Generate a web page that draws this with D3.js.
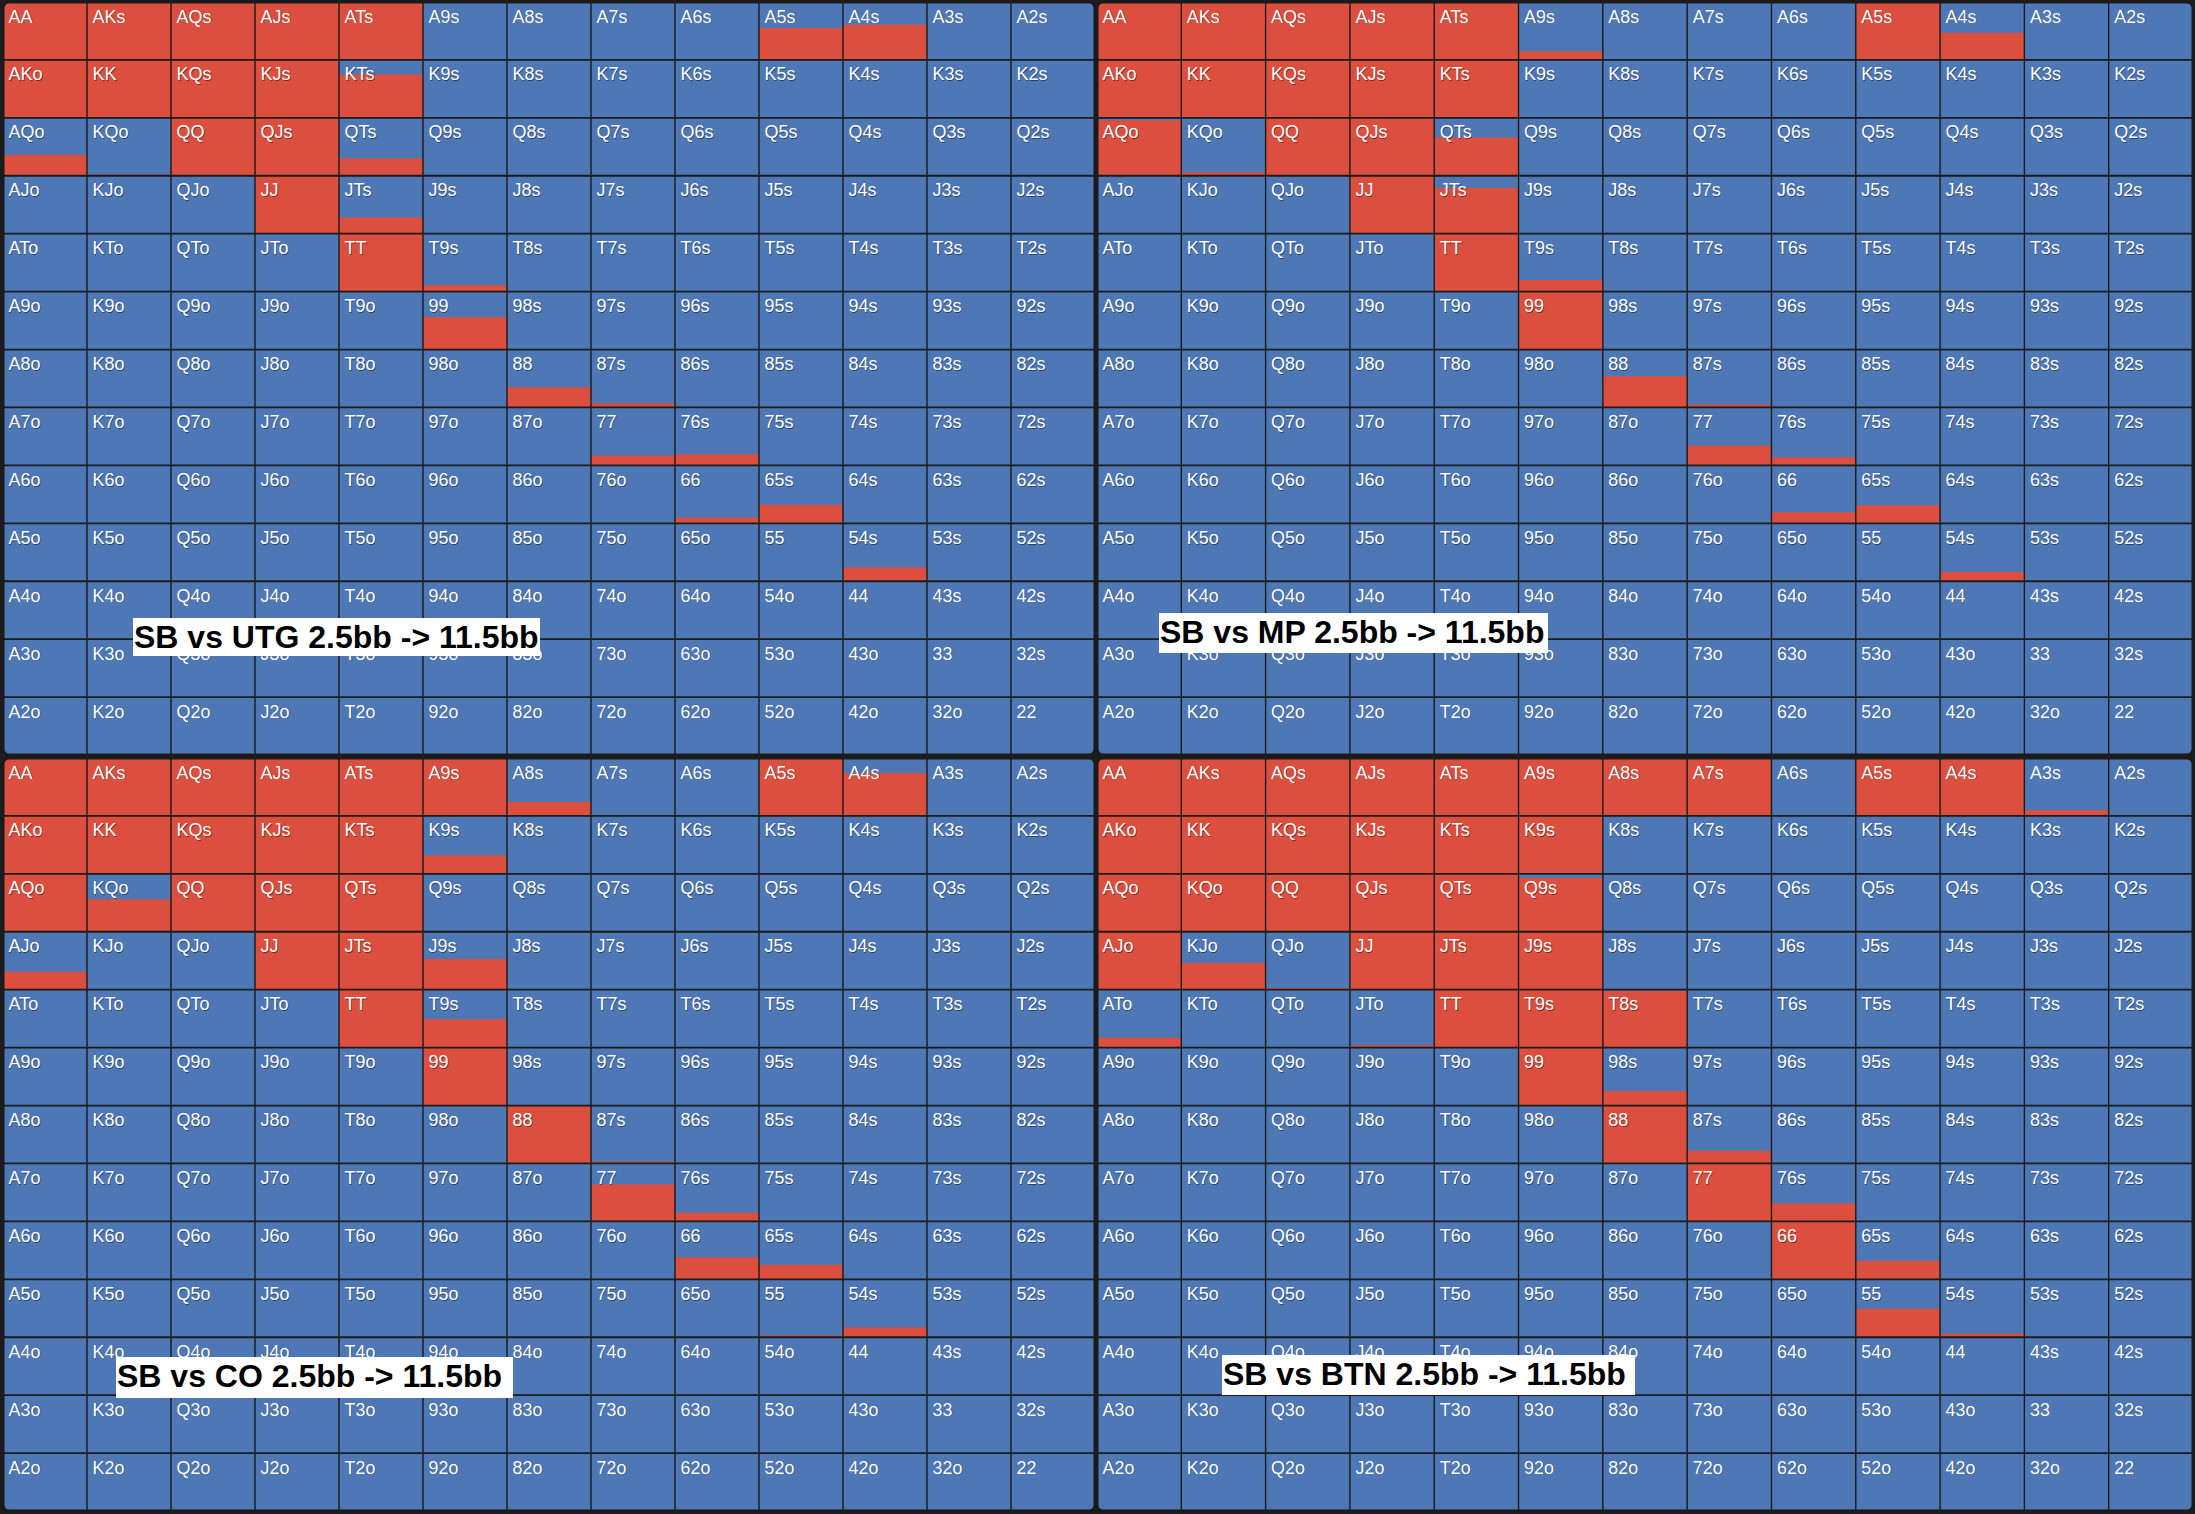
<!DOCTYPE html>
<html>
<head>
<meta charset="utf-8">
<script src="https://cdn.jsdelivr.net/npm/d3@7"></script>
<style>
  html, body { margin: 0; padding: 0; background: #1d1d1d; }
  svg { display: block; }
</style>
</head>
<body>
<svg id="chart" width="2195" height="1514"></svg>
<script>
// ---------- DATA ----------
const ranks = ['A','K','Q','J','T','9','8','7','6','5','4','3','2'];

const titles = [
  'SB vs UTG 2.5bb -> 11.5bb',
  'SB vs MP 2.5bb -> 11.5bb',
  'SB vs CO 2.5bb -> 11.5bb',
  'SB vs BTN 2.5bb -> 11.5bb'
];

// Fraction of each hand that is played (red), rows/cols follow `ranks`
const utgFreq = [
  [1,1,1,1,1,0,0,0,0,0.55,0.61,0,0],
  [1,1,1,1,0.75,0,0,0,0,0,0,0,0],
  [0.36,0.02,1,1,0.30,0,0,0,0,0,0,0,0],
  [0,0,0,1,0.28,0,0,0,0,0,0,0,0],
  [0,0,0,0,1,0.11,0,0,0,0,0,0,0],
  [0,0,0,0,0,0.56,0,0,0,0,0,0,0],
  [0,0,0,0,0,0,0.35,0.07,0,0,0,0,0],
  [0,0,0,0,0,0,0,0.17,0.19,0,0,0,0],
  [0,0,0,0,0,0,0,0,0.10,0.32,0,0,0],
  [0,0,0,0,0,0,0,0,0,0,0.24,0,0],
  [0,0,0,0,0,0,0,0,0,0,0,0,0],
  [0,0,0,0,0,0,0,0,0,0,0,0,0],
  [0,0,0,0,0,0,0,0,0,0,0,0,0]
];

const mpFreq = [
  [1,1,1,1,1,0.15,0,0,0,1,0.47,0,0],
  [1,1,1,1,1,0,0,0,0,0,0,0,0],
  [0.96,0.06,1,1,0.66,0,0,0,0,0,0,0,0],
  [0,0,0,1,0.79,0,0,0,0,0,0,0,0],
  [0,0,0,0,1,0.20,0,0,0,0,0,0,0],
  [0,0,0,0,0,1,0,0,0,0,0,0,0],
  [0,0,0,0,0,0,0.54,0.05,0,0,0,0,0],
  [0,0,0,0,0,0,0,0.34,0.14,0,0,0,0],
  [0,0,0,0,0,0,0,0,0.19,0.31,0,0,0],
  [0,0,0,0,0,0,0,0,0,0,0.16,0,0],
  [0,0,0,0,0,0,0,0,0,0,0,0,0],
  [0,0,0,0,0,0,0,0,0,0,0,0,0],
  [0,0,0,0,0,0,0,0,0,0,0,0,0]
];

const coFreq = [
  [1,1,1,1,1,1,0.24,0,0,1,0.74,0,0],
  [1,1,1,1,1,0.32,0,0,0,0,0,0,0],
  [1,0.56,1,1,1,0,0,0,0,0,0,0,0],
  [0.31,0,0,1,1,0.53,0,0,0,0,0,0,0],
  [0,0,0,0,1,0.49,0,0,0,0,0,0,0],
  [0,0,0,0,0,1,0,0,0,0,0,0,0],
  [0,0,0,0,0,0,1,0.03,0,0,0,0,0],
  [0,0,0,0,0,0,0,0.64,0.15,0,0,0,0],
  [0,0,0,0,0,0,0,0,0.38,0.25,0,0,0],
  [0,0,0,0,0,0,0,0,0,0.03,0.17,0,0],
  [0,0,0,0,0,0,0,0,0,0,0,0,0],
  [0,0,0,0,0,0,0,0,0,0,0,0,0],
  [0,0,0,0,0,0,0,0,0,0,0,0,0]
];

const btnFreq = [
  [1,1,1,1,1,1,1,1,0,1,1,0.10,0],
  [1,1,1,1,1,1,0,0,0,0,0,0,0],
  [1,1,1,1,1,0.93,0,0,0,0,0,0,0],
  [1,0.46,0.03,1,1,1,0,0,0,0,0,0,0],
  [0.17,0,0,0.04,1,1,0.98,0,0,0,0,0,0],
  [0,0,0,0,0,1,0.25,0,0,0,0,0,0],
  [0,0,0,0,0,0,1,0.22,0,0,0,0,0],
  [0,0,0,0,0,0,0,1,0.31,0,0,0,0],
  [0,0,0,0,0,0,0,0,1,0.32,0,0,0],
  [0,0,0,0,0,0,0,0,0,0.49,0.06,0,0],
  [0,0,0,0,0,0,0,0,0,0,0,0,0],
  [0,0,0,0,0,0,0,0,0,0,0,0,0],
  [0,0,0,0,0,0,0,0,0,0,0,0,0]
];

const freqs = [utgFreq, mpFreq, coFreq, btnFreq];

// ---------- LAYOUT ----------
const panelBoxes = [
  {x0: 3,    x1: 1095, y0: 2,   y1: 755},
  {x0: 1097, x1: 2193, y0: 2,   y1: 755},
  {x0: 3,    x1: 1095, y0: 758, y1: 1511},
  {x0: 1097, x1: 2193, y0: 758, y1: 1511}
];
// title box top-left, relative to panel grid origin
const titlePos = [
  {x: 130, y: 616, w: 407, h: 38},
  {x: 62,  y: 611, w: 389, h: 40},
  {x: 113, y: 599, w: 397, h: 41},
  {x: 125, y: 597, w: 413, h: 40}
];

const BLUE = '#4e78b5';
const RED = '#dc4e3d';
const LINE = '#1b1b1b';

const svg = d3.select('#chart');
svg.append('rect').attr('width', 2195).attr('height', 1514).attr('fill', '#1d1d1d');

function handName(i, j) {
  if (i === j) return ranks[i] + ranks[j];
  if (j > i) return ranks[i] + ranks[j] + 's';
  return ranks[j] + ranks[i] + 'o';
}

const defs = svg.append('defs');

panelBoxes.forEach((pb, p) => {
  const x = d3.scaleBand().domain(d3.range(13)).range([pb.x0, pb.x1]).padding(0);
  const y = d3.scaleBand().domain(d3.range(13)).range([pb.y0, pb.y1]).padding(0);
  const h = y.bandwidth();

  defs.append('clipPath').attr('id', 'clip' + p)
    .append('rect')
    .attr('x', pb.x0).attr('y', pb.y0)
    .attr('width', pb.x1 - pb.x0).attr('height', pb.y1 - pb.y0)
    .attr('rx', 6).attr('ry', 6);

  const g = svg.append('g').attr('clip-path', `url(#clip${p})`);

  const cells = [];
  for (let i = 0; i < 13; i++) for (let j = 0; j < 13; j++) {
    cells.push({i, j, f: freqs[p][i][j], name: handName(i, j)});
  }

  g.selectAll('rect.bg').data(cells).join('rect')
    .attr('class', 'bg')
    .attr('x', d => x(d.j)).attr('y', d => y(d.i))
    .attr('width', x.bandwidth()).attr('height', h)
    .attr('fill', BLUE);

  g.selectAll('rect.play').data(cells.filter(d => d.f > 0)).join('rect')
    .attr('class', 'play')
    .attr('x', d => x(d.j)).attr('y', d => y(d.i) + h * (1 - d.f))
    .attr('width', x.bandwidth()).attr('height', d => h * d.f)
    .attr('fill', RED);

  // grid lines
  g.selectAll('line.v').data(d3.range(14)).join('line')
    .attr('x1', k => k < 13 ? x(k) : pb.x1).attr('x2', k => k < 13 ? x(k) : pb.x1)
    .attr('y1', pb.y0).attr('y2', pb.y1)
    .attr('stroke', LINE).attr('stroke-width', 1.4);
  g.selectAll('line.h').data(d3.range(14)).join('line')
    .attr('y1', k => k < 13 ? y(k) : pb.y1).attr('y2', k => k < 13 ? y(k) : pb.y1)
    .attr('x1', pb.x0).attr('x2', pb.x1)
    .attr('stroke', LINE).attr('stroke-width', 1.8);

  // cell labels (shadow + text)
  g.selectAll('text.sh').data(cells).join('text')
    .attr('class', 'sh')
    .attr('x', d => x(d.j) + 6.2).attr('y', d => y(d.i) + 21.2)
    .attr('font-family', '"Liberation Sans", Arial, sans-serif')
    .attr('font-size', 18)
    .attr('fill', 'rgba(0,0,0,0.45)')
    .text(d => d.name);
  g.selectAll('text.lb').data(cells).join('text')
    .attr('class', 'lb')
    .attr('x', d => x(d.j) + 5.5).attr('y', d => y(d.i) + 20.5)
    .attr('font-family', '"Liberation Sans", Arial, sans-serif')
    .attr('font-size', 18)
    .attr('fill', '#ffffff')
    .text(d => d.name);

  // panel border
  svg.append('rect')
    .attr('x', pb.x0).attr('y', pb.y0)
    .attr('width', pb.x1 - pb.x0).attr('height', pb.y1 - pb.y0)
    .attr('rx', 6).attr('ry', 6)
    .attr('fill', 'none').attr('stroke', LINE).attr('stroke-width', 3);

  // title
  const tp = titlePos[p];
  const tg = svg.append('g').attr('transform', `translate(${pb.x0 + tp.x},${pb.y0 + tp.y})`);
  tg.append('rect').attr('x', 0).attr('y', 0)
    .attr('width', tp.w).attr('height', tp.h).attr('fill', '#ffffff');
  tg.append('text')
    .attr('x', 1).attr('y', 29.5)
    .attr('font-family', '"Liberation Sans", Arial, sans-serif')
    .attr('font-weight', 'bold')
    .attr('font-size', 32)
    .attr('fill', '#000000')
    .text(titles[p]);
});
</script>
</body>
</html>
